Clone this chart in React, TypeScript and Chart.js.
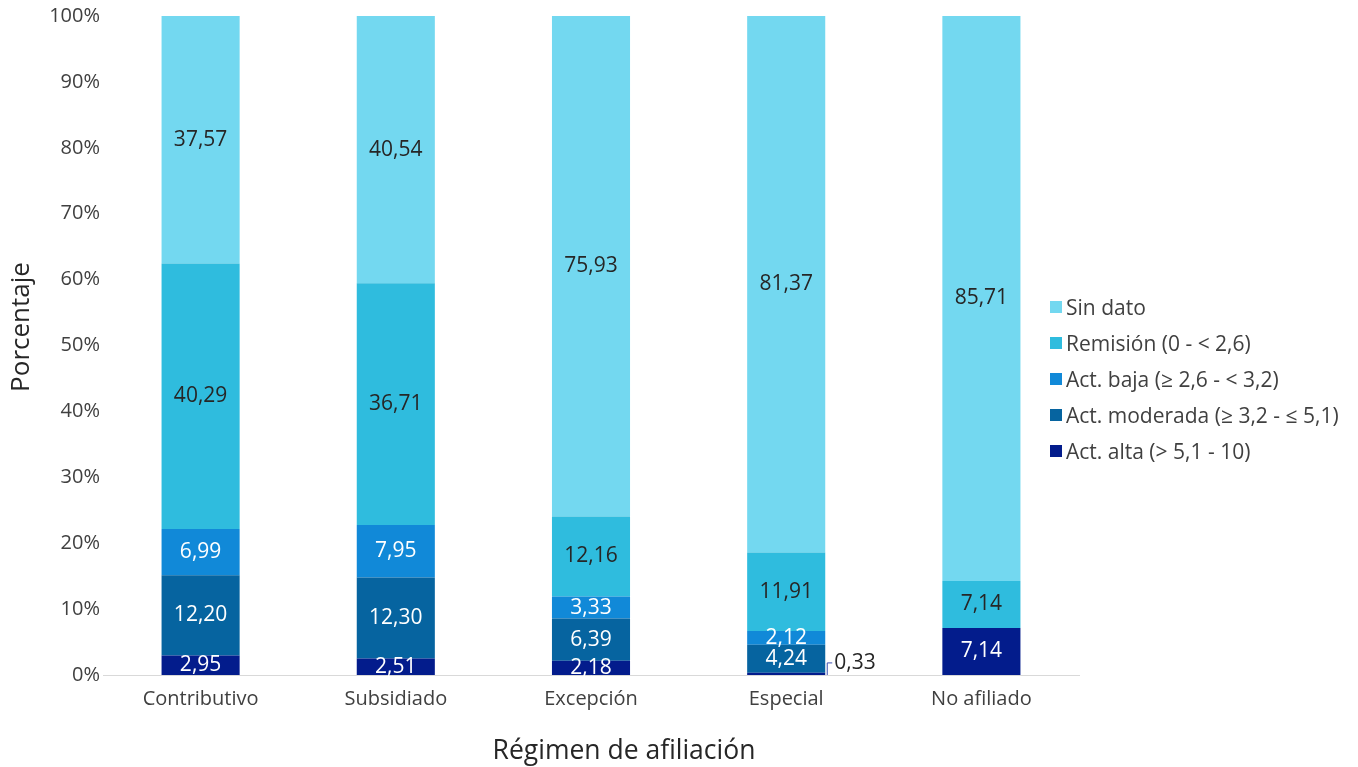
import React, { useEffect, useRef } from "react";
import { Chart, registerables } from "chart.js";

Chart.register(...registerables);

const categories = ["Contributivo", "Subsidiado", "Excepción", "Especial", "No afiliado"];
const actAlta = [2.95, 2.51, 2.18, 0.33, 7.14];
const actModerada = [12.2, 12.3, 6.39, 4.24, 0];
const actBaja = [6.99, 7.95, 3.33, 2.12, 0];
const remision = [40.29, 36.71, 12.16, 11.91, 7.14];
const sinDato = [37.57, 40.54, 75.93, 81.37, 85.71];

const seriesNames = [
  "Act. alta (> 5,1 - 10)",
  "Act. moderada (≥ 3,2 - ≤ 5,1)",
  "Act. baja (≥ 2,6 - < 3,2)",
  "Remisión (0 - < 2,6)",
  "Sin dato",
];
const seriesValues = [actAlta, actModerada, actBaja, remision, sinDato];
const seriesColors = ["#031C8C", "#0664A0", "#1189D8", "#2FBCDE", "#73D8F0"];
const labelColors = ["#FFFFFF", "#FFFFFF", "#FFFFFF", "#262626", "#262626"];
const yTicks = [0, 10, 20, 30, 40, 50, 60, 70, 80, 90, 100];
const xTitle = "Régimen de afiliación";
const yTitle = "Porcentaje";

const FONT = "'Open Sans', sans-serif";

const fmt = (v: number) => v.toFixed(2).replace(".", ",");

const totals = categories.map((_, i) => seriesValues.reduce((s, arr) => s + arr[i], 0));

const labelPlugin = {
  id: "segLabels",
  afterDatasetsDraw(chart: any) {
    const ctx = chart.ctx;
    ctx.save();
    ctx.font = `21px ${FONT}`;
    chart.data.datasets.forEach((_: any, di: number) => {
      const meta = chart.getDatasetMeta(di);
      meta.data.forEach((bar: any, i: number) => {
        const raw = seriesValues[di][i];
        if (!raw) return;
        const { x, y, base, width } = bar.getProps(["x", "y", "base", "width"], true);
        const h = Math.abs(base - y);
        const mid = (y + base) / 2;
        const text = fmt(raw);
        if (h < 8) {
          const ex = x + width / 2 + 2;
          ctx.strokeStyle = "#3B4FB0";
          ctx.lineWidth = 1;
          ctx.beginPath();
          ctx.moveTo(ex, base);
          ctx.lineTo(ex, mid - 11);
          ctx.lineTo(ex + 5, mid - 11);
          ctx.stroke();
          ctx.fillStyle = "#262626";
          ctx.textAlign = "left";
          ctx.textBaseline = "middle";
          ctx.fillText(text, ex + 7, mid - 11);
        } else {
          ctx.fillStyle = labelColors[di];
          ctx.textAlign = "center";
          ctx.textBaseline = "middle";
          ctx.fillText(text, x, mid);
        }
      });
    });
    ctx.restore();
  },
};

const axisTitlePlugin = {
  id: "axisTitles",
  afterDraw(chart: any) {
    const ctx = chart.ctx;
    ctx.save();
    ctx.fillStyle = "#262626";
    ctx.textAlign = "center";
    ctx.textBaseline = "middle";
    ctx.font = `26.5px ${FONT}`;
    ctx.fillText(xTitle, 624, 751);
    ctx.translate(22, 327);
    ctx.rotate(-Math.PI / 2);
    ctx.font = `26px ${FONT}`;
    ctx.fillText(yTitle, 0, 0);
    ctx.restore();
  },
};

export default function App() {
  const canvasRef = useRef<HTMLCanvasElement | null>(null);

  useEffect(() => {
    document.body.style.margin = "0";
    const canvas = canvasRef.current;
    if (!canvas) return;
    const chart = new Chart(canvas, {
      type: "bar",
      data: {
        labels: categories,
        datasets: seriesValues.map((vals, di) => ({
          label: seriesNames[di],
          data: vals.map((v, i) => (v / totals[i]) * 100),
          backgroundColor: seriesColors[di],
          borderWidth: 0,
          barPercentage: 0.4,
          categoryPercentage: 1,
        })),
      },
      options: {
        animation: false,
        responsive: false,
        maintainAspectRatio: false,
        events: [],
        layout: { padding: { top: 16, right: 279, left: 0, bottom: 0 } },
        plugins: {
          legend: { display: false },
          tooltip: { enabled: false },
        },
        scales: {
          x: {
            stacked: true,
            grid: { display: false, drawTicks: false },
            border: { display: true, color: "#D9D9D9", width: 1 },
            ticks: {
              color: "#404040",
              font: { family: FONT, size: 20 },
              padding: 12,
            },
            title: { display: false },
            afterFit(scale: any) {
              scale.height = 92;
            },
          },
          y: {
            stacked: true,
            min: 0,
            max: 100,
            afterBuildTicks(scale: any) {
              scale.ticks = yTicks.map((v) => ({ value: v }));
            },
            grid: { display: false, drawTicks: false },
            border: { display: false },
            ticks: {
              color: "#404040",
              font: { family: FONT, size: 20 },
              padding: 3,
              callback: (v: any) => `${v}%`,
            },
            title: { display: false },
            afterFit(scale: any) {
              scale.width = 103;
            },
          },
        },
      },
      plugins: [labelPlugin, axisTitlePlugin],
    });
    return () => chart.destroy();
  }, []);

  const legendOrder = [4, 3, 2, 1, 0];

  return (
    <div style={{ position: "relative", width: 1358, height: 767, background: "#fff" }}>
      <canvas ref={canvasRef} width={1358} height={767} style={{ display: "block" }} />
      <div style={{ position: "absolute", left: 1050, top: 289 }}>
        {legendOrder.map((di) => (
          <div
            key={di}
            style={{
              display: "flex",
              alignItems: "center",
              height: 36,
              fontFamily: FONT,
              fontSize: 21,
              color: "#404040",
              whiteSpace: "nowrap",
            }}
          >
            <span
              style={{
                display: "inline-block",
                width: 12,
                height: 12,
                background: seriesColors[di],
                marginRight: 4,
              }}
            />
            <span>{seriesNames[di]}</span>
          </div>
        ))}
      </div>
    </div>
  );
}
